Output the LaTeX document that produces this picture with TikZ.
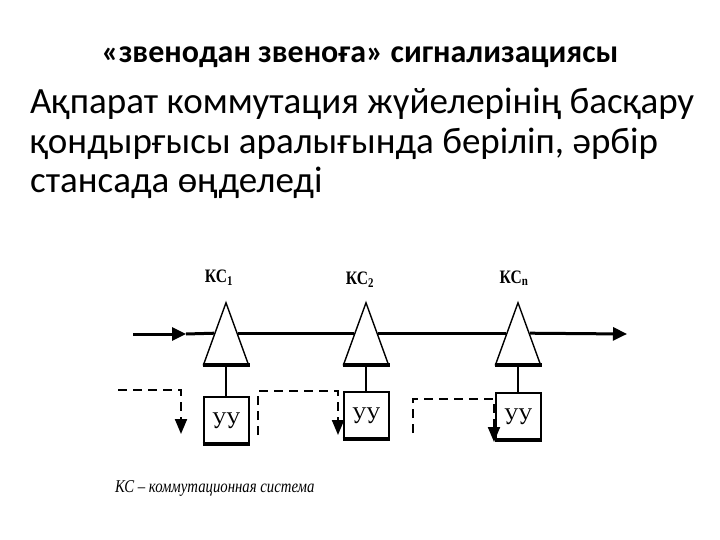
\documentclass[tikz,border=0pt]{standalone}
\usepackage{fontspec}
\setmainfont{Carlito}
\newfontfamily\schemefont[FakeStretch=0.82]{Liberation Serif}
\usetikzlibrary{shapes.geometric, arrows.meta, positioning, calc}
\tikzset{
  kcnode/.style={isosceles triangle, isosceles triangle stretches, shape border rotate=90,
                 draw=black, line width=1.4pt, fill=white, minimum width=45pt, minimum height=62pt, inner sep=0pt},
  uubox/.style={rectangle, draw=black, line width=2pt, fill=white, minimum width=45pt, minimum height=46pt,
                inner sep=0pt, font=\schemefont\fontsize{24}{24}\selectfont},
  kclabel/.style={inner sep=0pt, font=\schemefont\bfseries\fontsize{19}{19}\selectfont},
  mainline/.style={line width=3pt, draw=black},
  mainarrow/.style={mainline, -{Triangle[length=14pt, width=13pt]}},
  thickedge/.style={line width=4pt, draw=black},
  stalk/.style={line width=1.6pt, draw=black},
  dasharrow/.style={line width=2pt, dash pattern=on 9pt off 6pt, -{Triangle[length=15pt, width=12pt]}},
}

\begin{document}
\begin{tikzpicture}[x=1pt, y=-1pt]
  \useasboundingbox (0,0) rectangle (720,540);

  %% Heading and text
  \node[font=\bfseries\fontsize{32}{32}\selectfont] (title) at (360,57) {«звенодан звеноға» сигнализациясы};
  \node[anchor=north west, align=left, inner sep=0pt, font=\fontsize{37}{39.5}\selectfont] (body) at (30,88)
    {Ақпарат коммутация жүйелерінің басқару\\қондырғысы аралығында беріліп, әрбір\\стансада өңделеді};

  %% Switching systems
  \node[kcnode] (kc1) at (226,349) {};
  \node[kcnode, right=105pt of kc1] (kc2) {};
  \node[kcnode, right=117pt of kc2] (kcn) {};

  \node[kclabel, above=15pt of kc1, xshift=-7pt] (kc1lab) {КС\textsubscript{1}};
  \node[kclabel, above=13pt of kc2, xshift=-6pt] (kc2lab) {КС\textsubscript{2}};
  \node[kclabel, above=15pt of kcn, xshift=-4pt] (kcnlab) {КС\textsubscript{n}};

  \draw[thickedge] (kc1.left corner) -- (kc1.right corner);
  \draw[thickedge] (kc2.left corner) -- (kc2.right corner);
  \draw[thickedge] (kcn.left corner) -- (kcn.right corner);

  %% Control units
  \node[uubox, below=31pt of kc1] (uu1) {УУ};
  \node[uubox, below=26pt of kc2] (uu2) {УУ};
  \node[uubox, below=27pt of kcn] (uun) {УУ};

  \draw[thickedge] (uu1.south west) -- (uu1.south east);
  \draw[thickedge] (uu2.south west) -- (uu2.south east);
  \draw[thickedge] (uun.south west) -- (uun.south east);

  \draw[stalk] (kc1.lower side) -- (uu1);
  \draw[stalk] (kc2.lower side) -- (uu2);
  \draw[stalk] (kcn.lower side) -- (uun);

  %% Speech path
  \coordinate (in) at (133,334);
  \coordinate (inhead) at (186,334);
  \coordinate (out) at (627,334);
  \draw[mainarrow] (in) -- (inhead);
  \draw[mainline] (inhead) -- (kc1.left side);
  \draw[mainline] (kc1.right side) -- (kc2.left side);
  \draw[mainline] (kc2.right side) -- (kcn.left side);
  \draw[mainarrow] (kcn.right side) -- (out);

  %% Signalling between stations
  \coordinate (d1a) at (118,390);
  \coordinate (d1c) at (181,434);
  \draw[dasharrow] (d1a) -| (d1c);

  \coordinate (d2a) at (258,435);
  \coordinate (d2b) at (338,391);
  \coordinate (d2c) at (338,435);
  \draw[dasharrow] (d2a) |- (d2b) -- (d2c);

  \coordinate (d3a) at (413,433);
  \coordinate (d3b) at (494,399);
  \coordinate (d3c) at (494,442);
  \draw[dasharrow] (d3a) |- (d3b) -- (d3c);

  %% Legend
  \node[anchor=west, inner sep=0pt, font=\schemefont\itshape\fontsize{18}{18}\selectfont] (legend) at (115,488)
    {КС – коммутационная система};

\end{tikzpicture}
\end{document}
